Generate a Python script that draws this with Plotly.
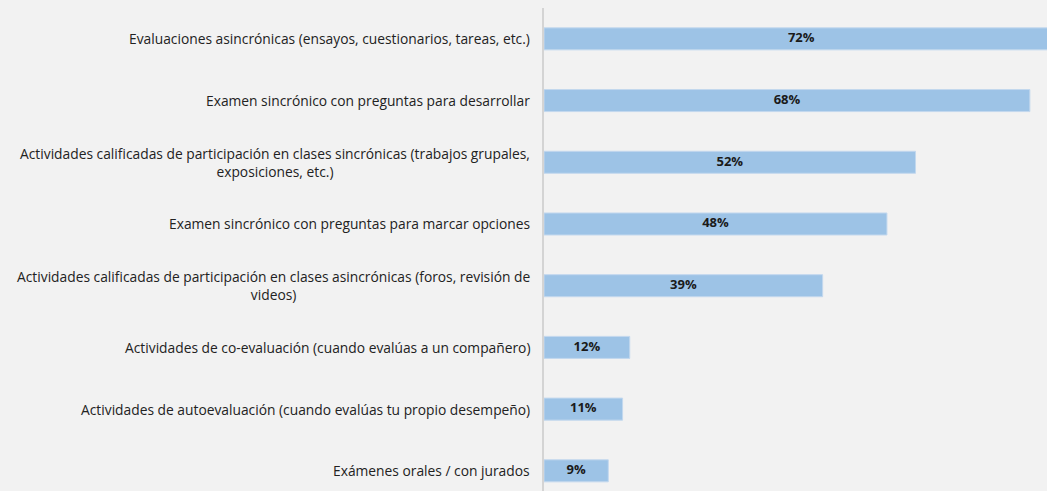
import plotly.graph_objects as go

# categories top -> bottom, share of students (%)
labels = [
    "Evaluaciones asincrónicas (ensayos, cuestionarios, tareas, etc.)",
    "Examen sincrónico con preguntas para desarrollar",
    "Actividades calificadas de participación en clases sincrónicas (trabajos grupales,<br>exposiciones, etc.)",
    "Examen sincrónico con preguntas para marcar opciones",
    "Actividades calificadas de participación en clases asincrónicas (foros, revisión de<br>videos)",
    "Actividades de co-evaluación (cuando evalúas a un compañero)",
    "Actividades de autoevaluación (cuando evalúas tu propio desempeño)",
    "Exámenes orales / con jurados",
]
values = [72, 68, 52, 48, 39, 12, 11, 9]
pct_text = [f"{v}%" for v in values]

font_family = "Open Sans, Liberation Sans, sans-serif"
bg = "#f2f2f2"

fig = go.Figure()
fig.add_trace(
    go.Bar(
        x=values,
        y=labels,
        orientation="h",
        marker=dict(color="#9dc3e6", line=dict(color="#c3d8ee", width=1)),
        hoverinfo="skip",
    )
)
# percentage labels centred in each bar
fig.add_trace(
    go.Scatter(
        x=[v / 2 for v in values],
        y=labels,
        mode="text",
        text=pct_text,
        textfont=dict(family=font_family, size=13, color="#1a1a1a", weight="bold"),
        hoverinfo="skip",
    )
)

# category labels as annotations so wrapped lines stay centred
for lab in labels:
    fig.add_annotation(
        x=0,
        xref="paper",
        y=lab,
        yref="y",
        text=lab,
        showarrow=False,
        xanchor="right",
        xshift=-12,
        align="center",
        font=dict(family=font_family, size=13.8, color="#222222"),
    )

fig.update_layout(
    width=1047,
    height=491,
    margin=dict(l=544, r=0, t=8, b=0),
    paper_bgcolor=bg,
    plot_bgcolor=bg,
    showlegend=False,
    bargap=0.643,
    xaxis=dict(
        range=[0, 70.4],
        showgrid=False,
        zeroline=False,
        showticklabels=False,
        showline=False,
    ),
    yaxis=dict(
        range=[7.327, -0.5],
        showgrid=False,
        zeroline=False,
        showticklabels=False,
        showline=True,
        linecolor="#d4d4d4",
        linewidth=2,
        ticks="",
    ),
)

fig.write_html(
    "out.html",
    config={"displayModeBar": False},
    post_script="document.body.style.margin='0';document.body.style.background='#f2f2f2';",
)
